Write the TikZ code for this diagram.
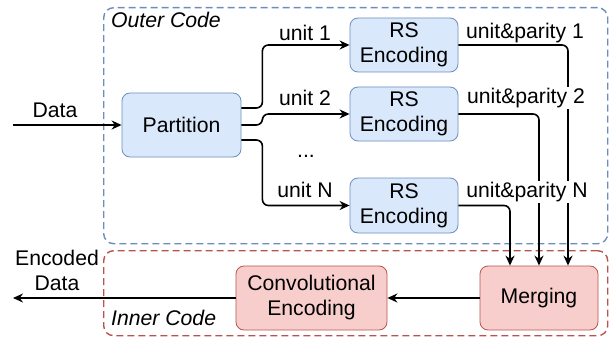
\documentclass[tikz,border=0pt]{standalone}
\usepackage{fontspec}
\setmainfont{Liberation Sans}
\usetikzlibrary{arrows.meta}
\definecolor{bfill}{HTML}{DAE8FC}
\definecolor{bstroke}{HTML}{6C8EBF}
\definecolor{rfill}{HTML}{F8CECC}
\definecolor{rstroke}{HTML}{B85450}
\begin{document}
\begin{tikzpicture}[x=1pt,y=-1pt,
  lbl/.style={font=\fontsize{21.2}{25}\selectfont, inner sep=1pt},
  block/.style={draw, rounded corners=8pt, line width=0.8pt, align=center, inner sep=0pt,
    font=\fontsize{21.2}{25}\selectfont},
  bblock/.style={block, draw=bstroke, fill=bfill},
  rblock/.style={block, draw=rstroke, fill=rfill},
  group/.style={rounded corners=10pt, line width=1.4pt, dash pattern=on 7pt off 4pt, inner sep=0pt},
  conn/.style={draw, line width=1.6pt, rounded corners=6pt, -{Stealth[length=10pt,width=9pt]}},
  wl/.style={lbl, fill=white}
]
\useasboundingbox (0,0) rectangle (611,337);
% groups
\node[group, draw=bstroke, minimum width=504pt, minimum height=236pt, anchor=north west] (outer) at (103,7) {};
\node[group, draw=rstroke, minimum width=504pt, minimum height=85pt, anchor=north west] (inner) at (103,250) {};
\node[lbl, anchor=west] (outerl) at (110,20) {\itshape Outer Code};
\node[lbl, anchor=west] (innerl) at (110,318) {\itshape Inner Code};
% blocks
\node[bblock, minimum width=119pt, minimum height=64pt] (part) at (181.5,125) {Partition};
\node[bblock, minimum width=108pt, minimum height=54pt] (rs1) at (404,45) {RS\\Encoding};
\node[bblock, minimum width=108pt, minimum height=54pt] (rs2) at (404,114) {RS\\Encoding};
\node[bblock, minimum width=108pt, minimum height=55pt] (rs3) at (404,205.5) {RS\\Encoding};
\node[rblock, minimum width=118pt, minimum height=64pt] (merge) at (539,298) {Merging};
\node[rblock, minimum width=151pt, minimum height=64pt] (conv) at (311.5,298) {Convolutional\\Encoding};
% coordinates
\coordinate (in) at (13,125);
\coordinate (out) at (13,298);
% connectors
\draw[conn] (in) -- (part.west);
\draw[conn] ([yshift=17pt]part.east) -- ++(21,0) |- (rs1.west);
\draw[conn] (part.east) -- ++(21,0) |- (rs2.west);
\draw[conn] ([yshift=-15pt]part.east) -- ++(21,0) |- (rs3.west);
\draw[conn] (rs1.east) -| ([xshift=29pt]merge.north);
\draw[conn] (rs2.east) -| (merge.north);
\draw[conn] (rs3.east) -| ([xshift=-29pt]merge.north);
\draw[conn] (merge.west) -- (conv.east);
\draw[conn] (conv.west) -- (out);
% labels
\node[lbl] (ldata) at (55,110) {Data};
\node[lbl, align=center] (lout) at (57,270) {Encoded\\Data};
\node[lbl] (lu1) at (305,33) {unit 1};
\node[lbl] (lu2) at (305,98) {unit 2};
\node[lbl] (ldots) at (306,156) {...};
\node[lbl] (lu3) at (305,190) {unit N};
\node[wl] (lp1) at (525,33) {unit\&parity 1};
\node[wl] (lp2) at (526,98) {unit\&parity 2};
\node[wl] (lp3) at (527,192) {unit\&parity N};
\end{tikzpicture}
\end{document}
